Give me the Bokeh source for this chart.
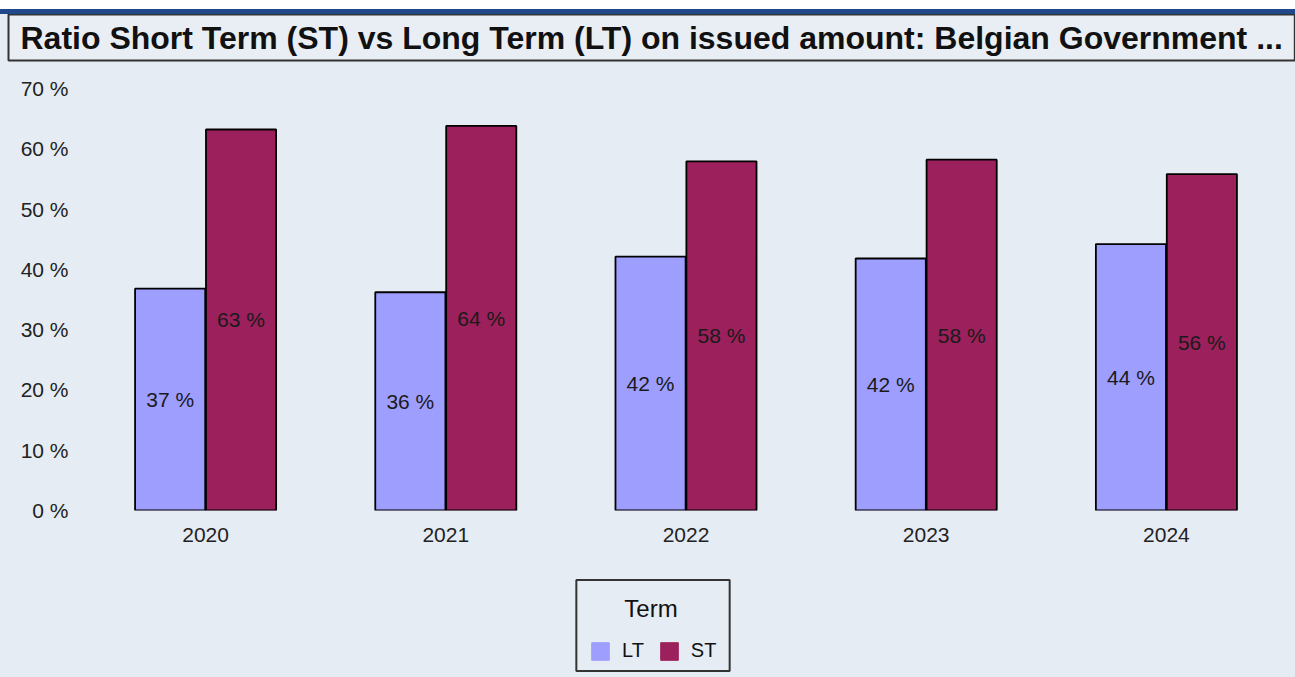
from bokeh.plotting import figure
from bokeh.models import (FactorRange, Range1d, Label, Legend, LegendItem, Title, Spacer,
                          PrintfTickFormatter, FixedTicker, ColumnDataSource)
from bokeh.transform import dodge
from bokeh.layouts import column
from bokeh.core.properties import value
from bokeh.embed import file_html
from bokeh.resources import INLINE

# ---- data ----
years = ["2020", "2021", "2022", "2023", "2024"]
lt_values = [36.8, 36.2, 42.1, 41.8, 44.2]
st_values = [63.2, 63.8, 57.9, 58.2, 55.8]
y_ticks = [0, 10, 20, 30, 40, 50, 60, 70]
title_text = "Ratio Short Term (ST) vs Long Term (LT) on issued amount: Belgian Government ..."
legend_title = "Term"
series_names = ["LT", "ST"]

FONT = "Liberation Sans"
BG = "#E6ECF3"
LT_COLOR = "#9E9EFF"
ST_COLOR = "#9B205C"
STRIPE = "#21488A"
W = 1295


def blank(fig, color):
    fig.background_fill_color = None
    fig.border_fill_color = color
    fig.outline_line_color = None
    fig.xgrid.visible = False
    fig.ygrid.visible = False


# ---- main chart (page y 14 .. 570) ----
src = ColumnDataSource(dict(
    year=years, lt=lt_values, st=st_values,
    lt_mid=[v / 2 for v in lt_values], st_mid=[v / 2 for v in st_values],
    lt_lab=[f"{round(v)} %" for v in lt_values],
    st_lab=[f"{round(v)} %" for v in st_values],
))

px_per_unit = (510 - 88) / 70.0
y_end = 70 + (88 - 62) / px_per_unit

p = figure(width=W, height=556, x_range=FactorRange(factors=years, range_padding=0),
           y_range=Range1d(0, y_end), output_backend="svg", toolbar_location=None,
           min_border_left=85, min_border_right=9, min_border_top=48, min_border_bottom=60)
blank(p, BG)

p.add_layout(Title(text=title_text, align="left", vertical_align="top", offset=-77,
                   standoff=0, text_font=FONT, text_font_size="32px", text_font_style="bold",
                   text_color="#111111", background_fill_color="#E9EEF5",
                   border_line_color="#333333", border_line_width=2,
                   padding=dict(left=12, right=12, top=5, bottom=5)), "above")

off = 0.1476
bw = 0.292
r_lt = p.vbar(x=dodge("year", -off, range=p.x_range), top="lt", width=bw, source=src,
              fill_color=LT_COLOR, line_color="black", line_width=1.8)
r_st = p.vbar(x=dodge("year", off, range=p.x_range), top="st", width=bw, source=src,
              fill_color=ST_COLOR, line_color="black", line_width=1.8)

p.text(x=dodge("year", -off, range=p.x_range), y="lt_mid", text="lt_lab", source=src,
       text_font=value(FONT), text_font_size="21px", text_color="#1a1a1a",
       text_align="center", text_baseline="middle")
p.text(x=dodge("year", off, range=p.x_range), y="st_mid", text="st_lab", source=src,
       text_font=value(FONT), text_font_size="21px", text_color="#1a1a1a",
       text_align="center", text_baseline="middle")

for ax in (p.xaxis[0], p.yaxis[0]):
    ax.axis_line_color = None
    ax.major_tick_line_color = None
    ax.minor_tick_line_color = None
    ax.major_label_text_font = FONT
    ax.major_label_text_font_size = "21px"
    ax.major_label_text_color = "#222222"
p.yaxis[0].ticker = FixedTicker(ticks=y_ticks)
p.yaxis[0].formatter = PrintfTickFormatter(format="%d %%")
p.yaxis[0].major_label_standoff = 11
p.xaxis[0].major_label_standoff = 11

# ---- legend strip (page y 570 .. 677) ----
lg = figure(width=W, height=107, output_backend="svg", toolbar_location=None,
            x_axis_location=None, y_axis_location=None,
            x_range=Range1d(0, 1), y_range=Range1d(0, 1),
            min_border_left=85, min_border_right=9, min_border_top=0, min_border_bottom=0)
blank(lg, BG)
g_lt = lg.rect(x=[5], y=[5], width=1, height=1, fill_color=LT_COLOR, line_color=LT_COLOR)
g_st = lg.rect(x=[5], y=[5], width=1, height=1, fill_color=ST_COLOR, line_color=ST_COLOR)
lg.add_layout(Label(x=567.5, y=52, x_units="screen", y_units="screen", text=legend_title,
                    text_font=FONT, text_font_size="24px", text_color="#111111",
                    text_align="center", text_baseline="middle",
                    border_line_color="#333333", border_line_width=2,
                    padding=dict(left=48, right=52, top=15, bottom=49)))
legend = Legend(items=[LegendItem(label=series_names[0], renderers=[g_lt]),
                       LegendItem(label=series_names[1], renderers=[g_st])],
                orientation="horizontal", location=(504, 15),
                border_line_color=None, background_fill_alpha=0,
                padding=0, margin=0, spacing=14, label_standoff=11,
                glyph_width=22, glyph_height=22, label_height=22,
                label_text_font=FONT, label_text_font_size="20px", label_text_color="#111111")
lg.add_layout(legend, "center")

top_space = Spacer(width=W, height=9, styles={"background-color": "#FFFFFF"})
stripe = Spacer(width=W, height=5, styles={"background-color": STRIPE})
layout = column(top_space, stripe, p, lg, spacing=0, styles={"background-color": BG})
open("out.html", "w").write(file_html(layout, INLINE))
